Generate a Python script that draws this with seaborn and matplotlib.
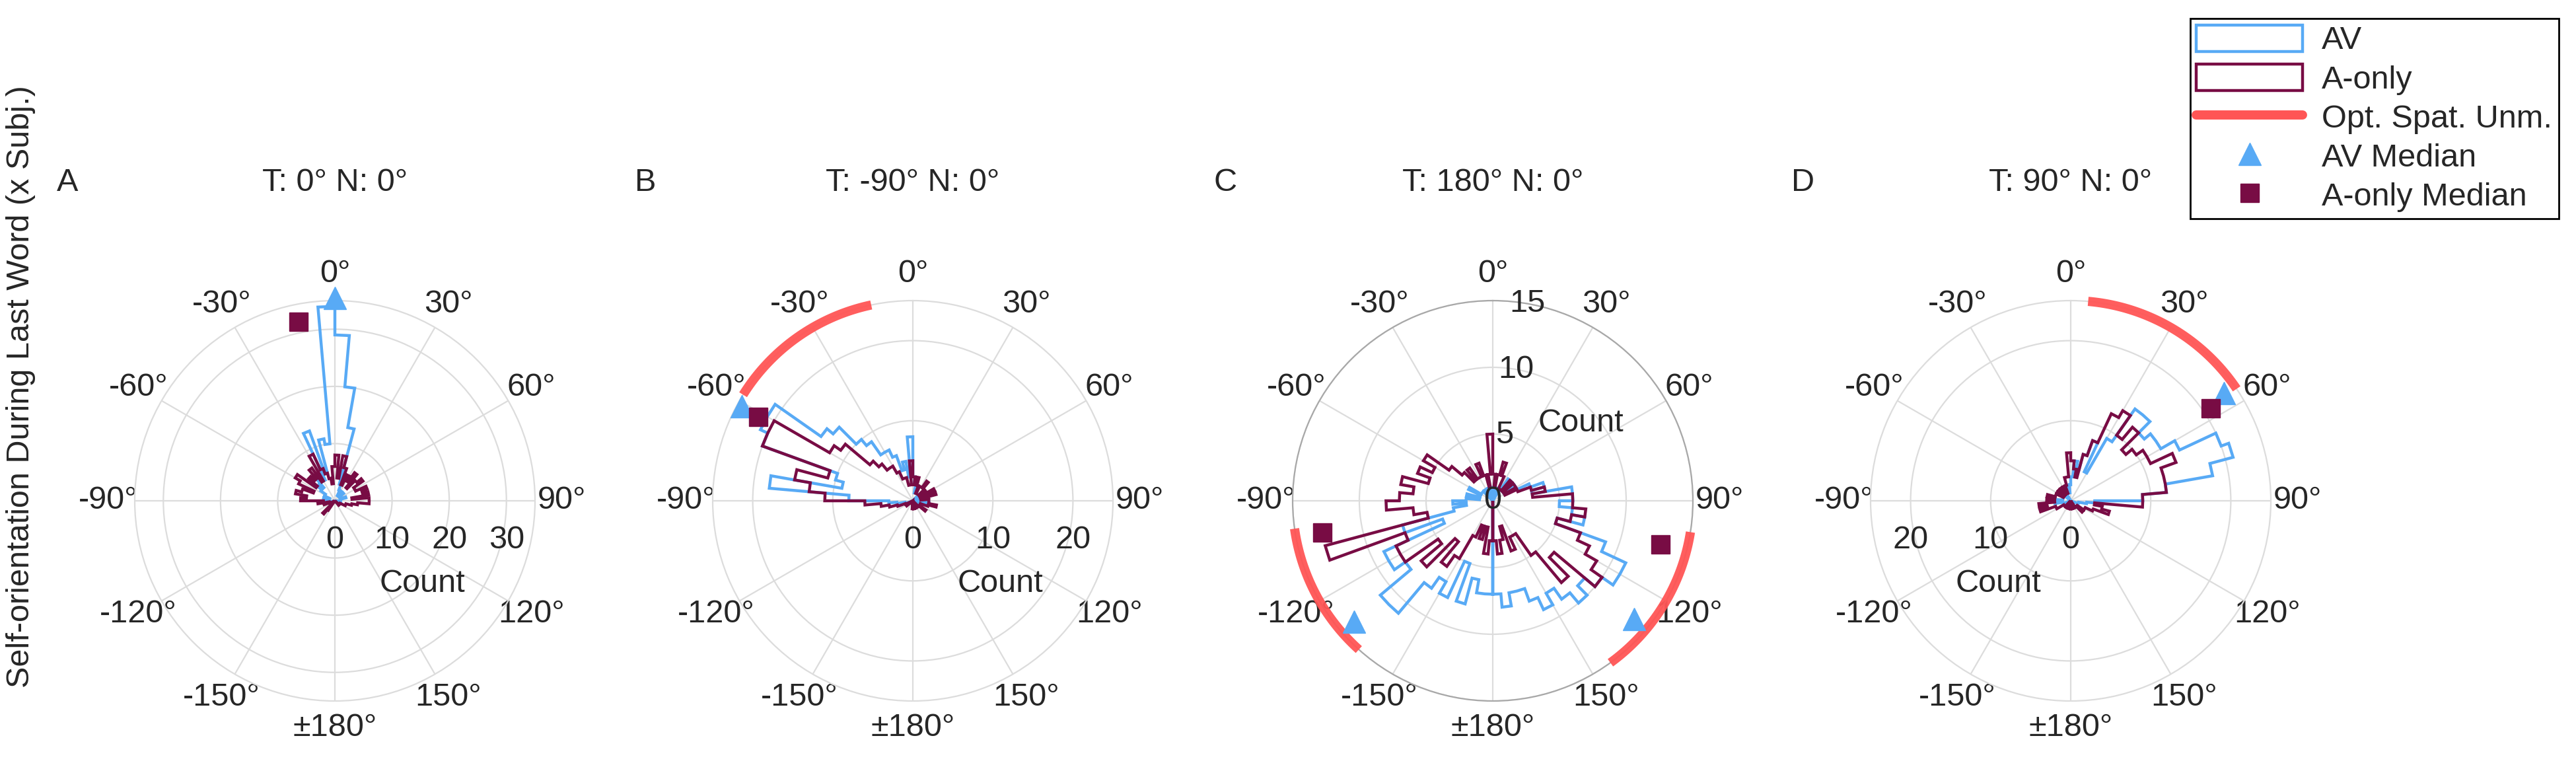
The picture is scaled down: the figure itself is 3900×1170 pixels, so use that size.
import numpy as np
import matplotlib
matplotlib.use("Agg")
import matplotlib.pyplot as plt
import matplotlib.transforms as mtransforms
from matplotlib.patches import Patch
from matplotlib.lines import Line2D
import seaborn as sns

sns.set_theme(style="white")
plt.rcParams['font.family'] = ['Liberation Sans', 'DejaVu Sans']

# 5 degree bins from -180 to 180 (each row = 30 degrees)
bin_edges = np.arange(-180, 181, 5)

panel_letters = ["A", "B", "C", "D"]
panel_titles = ["T: 0° N: 0°", "T: -90° N: 0°", "T: 180° N: 0°", "T: 90° N: 0°"]
r_max = [35, 25, 15, 25]
r_ticks = [[0, 10, 20, 30], [0, 10, 20], [0, 5, 10, 15], [0, 10, 20]]

av_a = [0, 0, 0, 0, 0, 0,  0, 0, 0, 0, 0, 0,  0, 0, 0, 0, 1, 1,
        1, 2, 1, 2, 1, 2,  2, 3, 4, 3, 5, 4,  4, 13, 5, 11, 10, 34,
        29, 20, 13, 3, 2, 1,  2, 1, 1, 2, 1, 1,  1, 1, 2, 1, 1, 1,
        1, 0, 1, 0, 0, 0,  0, 0, 0, 0, 0, 0,  0, 0, 0, 0, 0, 0]
aonly_a = [0, 0, 0, 0, 0, 0,  0, 2, 3, 1, 1, 0,  0, 1, 2, 1, 3, 2,
           6, 5, 7, 6, 4, 7,  8, 4, 6, 5, 7, 4,  9, 6, 5, 4, 3, 6,
           8, 4, 8, 6, 3, 5,  4, 6, 3, 5, 6, 4,  4, 6, 5, 6, 3, 6,
           6, 4, 3, 2, 2, 1,  1, 1, 0, 1, 0, 0,  0, 0, 0, 0, 0, 0]

av_b = [0, 0, 0, 0, 0, 0,  0, 0, 0, 0, 0, 0,  0, 0, 1, 1, 2, 3,
        8, 18, 9, 10, 20, 21,  21, 14, 13, 10, 9, 7,  7, 6, 4, 5, 3, 8,
        3, 2, 1, 2, 1, 1,  1, 1, 1, 0, 1, 0,  2, 1, 1, 0, 0, 1,
        1, 2, 1, 1, 0, 0,  1, 1, 0, 0, 0, 0,  0, 0, 0, 0, 0, 0]
aonly_b = [1, 0, 0, 0, 0, 0,  0, 0, 0, 0, 1, 0,  0, 1, 2, 3, 4, 6,
           11, 13, 15, 11, 20, 20,  12, 11, 7, 6, 5, 5,  4, 3, 3, 2, 2, 5,
           3, 2, 3, 2, 1, 2,  2, 3, 2, 1, 1, 2,  3, 1, 3, 2, 1, 2,
           2, 2, 3, 2, 1, 1,  1, 2, 1, 0, 0, 0,  0, 1, 0, 0, 1, 0]

av_c = [7, 7, 6, 8, 5, 8,  7, 8, 11, 11, 8, 9,  9, 4, 7, 3, 2, 3,
        2, 1, 2, 1, 1, 2,  1, 1, 1, 0, 1, 1,  1, 0, 1, 1, 0, 1,
        1, 1, 0, 1, 1, 0,  1, 2, 1, 2, 1, 2,  2, 3, 4, 3, 6, 6,
        5, 6, 7, 5, 9, 11,  11, 10, 9, 10, 9, 8,  9, 8, 7, 7, 8, 7]
aonly_c = [3, 4, 2, 3, 2, 3,  5, 6, 4, 7, 5, 8,  8, 7, 13, 5, 6, 8,
           7, 6, 7, 5, 6, 5,  6, 4, 3, 2, 3, 2,  2, 3, 2, 1, 2, 5,
           2, 1, 2, 3, 2, 1,  1, 1, 2, 1, 2, 2,  1, 2, 3, 4, 3, 6,
           6, 7, 6, 5, 7, 8,  9, 10, 6, 8, 5, 3,  3, 4, 2, 3, 4, 3]

av_d = [0, 0, 0, 0, 0, 0,  0, 0, 0, 0, 0, 0,  0, 0, 1, 1, 2, 1,
        2, 1, 1, 1, 1, 1,  1, 1, 0, 1, 1, 0,  1, 1, 1, 2, 1, 2,
        3, 5, 4, 6, 8, 4,  9, 14, 14, 12, 13, 13,  15, 20, 21, 18, 12, 9,
        3, 2, 1, 1, 0, 0,  0, 0, 0, 0, 0, 0,  0, 0, 0, 0, 0, 0]
aonly_d = [1, 0, 0, 1, 0, 0,  1, 1, 0, 1, 1, 1,  2, 2, 4, 3, 4, 2,
           3, 2, 3, 2, 2, 1,  2, 1, 2, 1, 2, 1,  2, 1, 2, 3, 3, 6,
           5, 4, 3, 6, 8, 12,  13, 10, 12, 9, 10, 11,  11, 14, 12, 12, 12, 9,
           9, 3, 4, 5, 3, 2,  2, 1, 2, 1, 1, 0,  1, 0, 1, 0, 0, 1]

av_counts = [av_a, av_b, av_c, av_d]
aonly_counts = [aonly_a, aonly_b, aonly_c, aonly_d]

# medians (angle deg, radius)
av_median = [[(0, 35.5)], [(-61, 24.4)], [(-131, 13.8), (130, 13.8)], [(55, 23.4)]]
aonly_median = [[(-11.5, 32)], [(-61.5, 22)], [(-100.5, 13), (104.5, 13)], [(56.5, 21)]]

# optimal spatial unmasking ranges (deg)
opt_ranges = [[], [(-58, -12)], [(-98, -138), (99, 144)], [(5, 56)]]

c_av = "#58aaf5"
c_aonly = "#780c44"
c_opt = "#ff5555"

fig = plt.figure(figsize=(39, 11.7), dpi=100)
W, H = 3900, 1170
centers_x = [507, 1382, 2260, 3135]
center_y = 758
R = 303
fs = 35

theta_deg = list(range(0, 360, 30))
theta_lab = ["0°", "30°", "60°", "90°", "120°", "150°", "±180°",
             "-150°", "-120°", "-90°", "-60°", "-30°"]

for i in range(4):
    cx = centers_x[i]
    ax = fig.add_axes([(cx - R) / W, 1 - (center_y + R) / H, 2 * R / W, 2 * R / H],
                      projection="polar")
    ax.set_theta_zero_location("N")
    ax.set_theta_direction(-1)
    ax.set_facecolor("white")
    ax.set_thetagrids(theta_deg, theta_lab, fontsize=fs, color="#262626")
    ax.tick_params(axis="x", pad=16)
    ax.set_rlim(0, r_max[i])
    ax.set_rticks(r_ticks[i])
    ax.set_yticklabels([])
    ax.grid(True, color="#dcdcdc", lw=1.6)
    ax.spines["polar"].set_color("#a8a8a8" if i == 2 else "#dcdcdc")
    ax.spines["polar"].set_linewidth(1.6)

    edges = np.deg2rad(bin_edges)
    ax.stairs(av_counts[i], edges, baseline=0, color=c_av, lw=3.2, zorder=3)
    ax.stairs(aonly_counts[i], edges, baseline=0, color=c_aonly, lw=3.2, zorder=4)

    for a0, a1 in opt_ranges[i]:
        th = np.deg2rad(np.linspace(a0, a1, 120))
        ax.plot(th, np.full_like(th, r_max[i]), color=c_opt, lw=10, alpha=0.95,
                solid_capstyle="butt", clip_on=False, zorder=5)
    for a, r in av_median[i]:
        ax.plot(np.deg2rad(a), r, marker="^", ms=24, color=c_av, ls="none",
                clip_on=False, zorder=6)
    for a, r in aonly_median[i]:
        ax.plot(np.deg2rad(a), r, marker="s", ms=20, color=c_aonly, ls="none",
                clip_on=False, zorder=6)

    # radial tick labels
    if i == 2:
        for t in r_ticks[i]:
            ax.text(np.deg2rad(10) if t else 0, t, str(t), fontsize=fs, ha="center",
                    va="center", color="#262626", zorder=7)
        ax.text(np.deg2rad(48.7), 8.8, "Count", fontsize=fs, ha="center", va="center")
    else:
        side = -90 if i == 3 else 90
        off = mtransforms.offset_copy(ax.transData, fig=fig, y=-60, units="dots")
        for t in r_ticks[i]:
            ax.text(np.deg2rad(side), t, str(t), fontsize=fs, ha="center",
                    va="center", color="#262626", transform=off)
        count_x = -110 if i == 3 else 132
        fig.text((cx + count_x) / W, 1 - (center_y + 126) / H, "Count",
                 fontsize=fs, ha="center", va="center")

    fig.text((cx - 405) / W, 1 - 276 / H, panel_letters[i], fontsize=fs,
             ha="center", va="center")
    fig.text(cx / W, 1 - 276 / H, panel_titles[i], fontsize=fs,
             ha="center", va="center")

fig.text(0.008, 0.5, "Self-orientation During Last Word (x Subj.)", fontsize=fs,
         rotation=90, ha="center", va="center")

handles = [
    Patch(facecolor="none", edgecolor=c_av, lw=3.2, label="AV"),
    Patch(facecolor="none", edgecolor=c_aonly, lw=3.2, label="A-only"),
    Line2D([], [], color=c_opt, lw=10, label="Opt. Spat. Unm."),
    Line2D([], [], color=c_av, marker="^", ms=24, ls="none", label="AV Median"),
    Line2D([], [], color=c_aonly, marker="s", ms=20, ls="none", label="A-only Median"),
]
leg = fig.legend(handles=handles, loc="upper right", bbox_to_anchor=(0.9995, 0.997),
                 fontsize=fs, frameon=True, fancybox=False, edgecolor="black",
                 framealpha=1, handlelength=3.3, handleheight=0.9,
                 labelspacing=0.25, borderpad=0.2, handletextpad=0.6)
leg.get_frame().set_linewidth(2)

fig.savefig("out.png", dpi=100, facecolor="white")
